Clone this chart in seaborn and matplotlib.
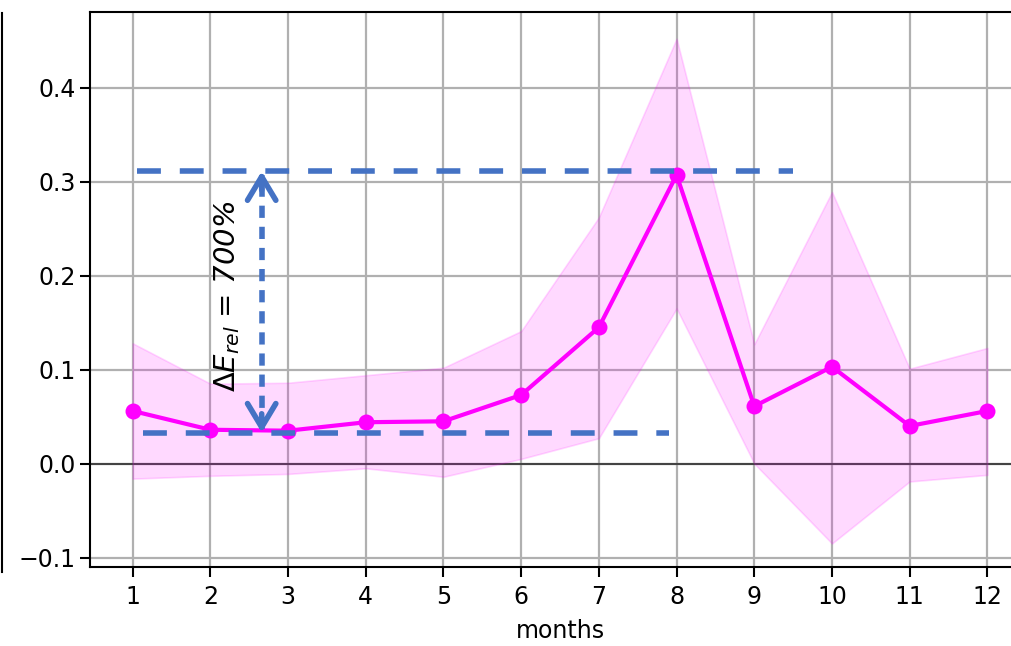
import matplotlib
matplotlib.use("Agg")
import matplotlib.pyplot as plt
import seaborn as sns
import pandas as pd

# Monthly relative error: mean with spread band
months = [1, 2, 3, 4, 5, 6, 7, 8, 9, 10, 11, 12]
mean_err = [0.056, 0.036, 0.035, 0.044, 0.045, 0.073, 0.145, 0.307, 0.061, 0.103, 0.040, 0.056]
upper_err = [0.128, 0.085, 0.086, 0.094, 0.102, 0.141, 0.262, 0.452, 0.127, 0.289, 0.101, 0.123]
lower_err = [-0.016, -0.013, -0.011, -0.005, -0.014, 0.005, 0.027, 0.165, 0.000, -0.085, -0.019, -0.012]

# Reference levels for the min/max annotation
level_high = 0.311
level_low = 0.033
high_span = (1.05, 9.5)
low_span = (1.13, 7.9)
arrow_month = 2.66
label_text = r"$\mathit{\Delta E_{rel}}$ = 700%"

df = pd.DataFrame({"months": months, "err": mean_err})

plt.rcParams["font.family"] = ["DejaVu Sans"]
plt.rcParams["font.size"] = 17

fig = plt.figure(figsize=(10.12, 6.46), dpi=100)

# neighbouring panel, only its right edge shows
nb = fig.add_axes([-0.5, 0.1146, 0.5015, 0.865])
for side in ("top", "bottom", "left"):
    nb.spines[side].set_visible(False)
nb.spines["right"].set_linewidth(1.5)
nb.set_xticks([])
nb.set_yticks([])

ax = fig.add_axes([0.0889, 0.1223, 0.929, 0.8585])
ax.set_xlim(0.45, 12.55)
ax.set_ylim(-0.11, 0.48)

ax.grid(True, color="#b0b0b0", linewidth=1.6, zorder=0)
ax.set_axisbelow(True)
ax.axhline(0, color="#444444", linewidth=1.5, zorder=1)

ax.fill_between(months, lower_err, upper_err, color="magenta", alpha=0.15,
                linewidth=1.2, zorder=2)
sns.lineplot(data=df, x="months", y="err", color="magenta", marker="o",
             linewidth=3, markersize=11.5, markeredgewidth=0, ax=ax, zorder=3)

blue = "#4472C4"
dash = (0, (4.3, 3.4))
ax.plot(high_span, [level_high, level_high], color=blue, lw=4, linestyle=dash, zorder=4)
ax.plot(low_span, [level_low, level_low], color=blue, lw=4, linestyle=dash, zorder=4)

# dashed shaft with open arrow heads at both ends
ax.plot([arrow_month, arrow_month], [level_low + 0.004, level_high - 0.004],
        color=blue, lw=4, linestyle=(0, (2.2, 1.6)), zorder=4)
for tip, tail in ((level_high, level_high - 0.02), (level_low, level_low + 0.02)):
    ax.annotate("", xy=(arrow_month, tip), xytext=(arrow_month, tail),
                arrowprops=dict(arrowstyle="->,head_length=1.0,head_width=0.6",
                                color=blue, lw=4, shrinkA=0, shrinkB=0),
                zorder=5)

ax.text(2.22, (level_high + level_low) / 2 + 0.006, label_text, rotation=90,
        ha="center", va="center", fontsize=21, style="italic", zorder=6)

ax.set_xticks(months)
ax.set_yticks([-0.1, 0.0, 0.1, 0.2, 0.3, 0.4])
ax.set_xlabel("months", fontsize=17, labelpad=7)
ax.set_ylabel("")
ax.tick_params(labelsize=17, width=1.5, length=7)
ax.tick_params(axis="x", pad=6)
for sp in ax.spines.values():
    sp.set_linewidth(1.5)

fig.savefig("out.png", dpi=100)
